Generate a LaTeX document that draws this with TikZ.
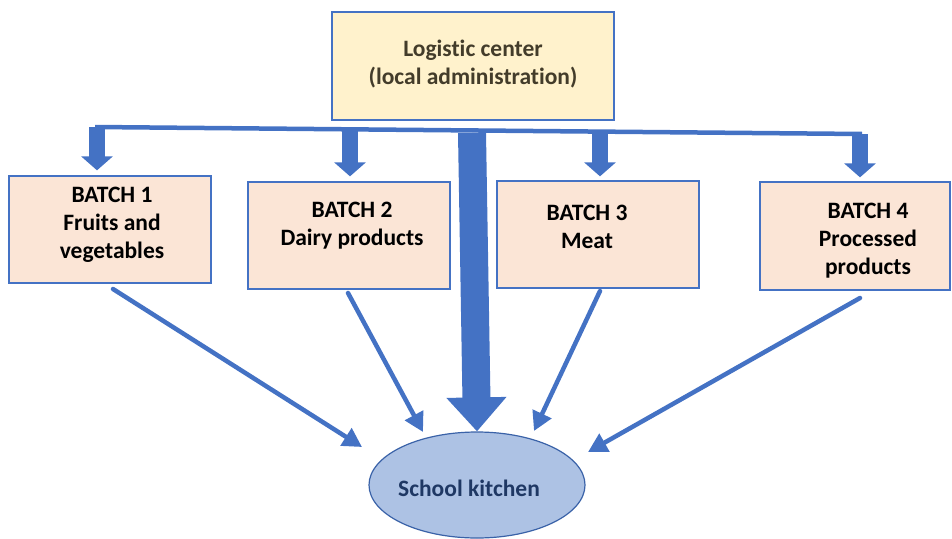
\documentclass[tikz,border=0pt]{standalone}
\usepackage{fontspec}
\setmainfont{Carlito}[Ligatures=NoCommon]
\usetikzlibrary{arrows.meta,shapes.geometric}
\definecolor{ofblue}{HTML}{4472C4}
\definecolor{cream}{HTML}{FFF2CC}
\definecolor{peach}{HTML}{FBE5D6}
\definecolor{kitchenfill}{HTML}{ADC2E4}
\definecolor{kitchenline}{HTML}{3A62A8}
\definecolor{brownink}{HTML}{433C2A}
\definecolor{navyink}{HTML}{1F3864}
\tikzset{
  box/.style={draw=ofblue, line width=1.3pt, inner sep=0pt},
  label/.style={font=\fontsize{23.5}{28}\selectfont\bfseries, align=center, inner sep=0pt},
  feed/.style={draw=ofblue, line width=16pt,
    -{Triangle[length=14pt,width=31pt]}},
  bus/.style={draw=ofblue, line width=4.5pt},
  supply/.style={draw=ofblue, line width=4.5pt, line cap=round,
    -{Triangle[length=19pt,width=20pt]}},
  mainflow/.style={draw=ofblue, line width=28pt,
    -{Triangle[length=34pt,width=58pt]}}
}
\begin{document}
\begin{tikzpicture}[x=1pt,y=-1pt]
\useasboundingbox (0,0) rectangle (952,538);

% top: logistic center
\node[box, fill=cream, minimum width=282pt, minimum height=108pt] (center) at (473,66) {};
\node[label, text=brownink] (centertxt) at (473,64) {Logistic center\\(local administration)};

% four batch boxes
\node[box, fill=peach, minimum width=202pt, minimum height=107pt] (b1) at (110,229.5) {};
\node[box, fill=peach, minimum width=202pt, minimum height=107pt] (b2) at (349,235.5) {};
\node[box, fill=peach, minimum width=202pt, minimum height=107pt] (b3) at (598,234.5) {};
\node[box, fill=peach, minimum width=190pt, minimum height=108pt] (b4) at (855,236) {};

\node[label] (b1t) at (112,224.5) {BATCH 1\\Fruits and\\vegetables};
\node[label] (b2t) at (352,226) {BATCH 2\\Dairy products};
\node[label] (b3t) at (587,226.5) {BATCH 3\\Meat};
\node[label] (b4t) at (868,241) {BATCH 4\\Processed\\products};

% kitchen
\node[ellipse, draw=kitchenline, line width=1.2pt, fill=kitchenfill,
      minimum width=216pt, minimum height=106pt, inner sep=0pt] (kitchen) at (477,485) {};
\node[label, text=navyink] (kitchentxt) at (469,488) {School kitchen};

% distribution bus below the logistic center
\coordinate (busL) at (95,127);
\coordinate (busR) at (862,134);
\draw[bus] (busL) -- (busR);

% drops from the bus into each batch
\coordinate (d1) at (97,127);
\coordinate (d2) at (350,129.3);
\coordinate (d3) at (600,131.6);
\coordinate (d4) at (860,134);
\draw[feed, shorten >=5pt] (d1) -- (d1 |- b1.north);
\draw[feed, shorten >=5pt] (d2) -- (d2 |- b2.north);
\draw[feed, shorten >=4pt] (d3) -- (d3 |- b3.north);
\draw[feed, shorten >=4pt] (d4) -- (d4 |- b4.north);

% main flow to the kitchen
\coordinate (m0) at (472,133);
\draw[mainflow] (m0) -- (kitchen.north);

% batches to the kitchen
\coordinate (s1) at (113,289);
\coordinate (s2) at (348,293);
\coordinate (s3) at (600,291);
\coordinate (s4) at (860,298);
\coordinate (e1) at (362,447);
\coordinate (e2) at (423,432);
\coordinate (e3) at (534,431);
\coordinate (e4) at (588,452);
\draw[supply] (s1) -- (e1);
\draw[supply] (s2) -- (e2);
\draw[supply] (s3) -- (e3);
\draw[supply] (s4) -- (e4);
\end{tikzpicture}
\end{document}
